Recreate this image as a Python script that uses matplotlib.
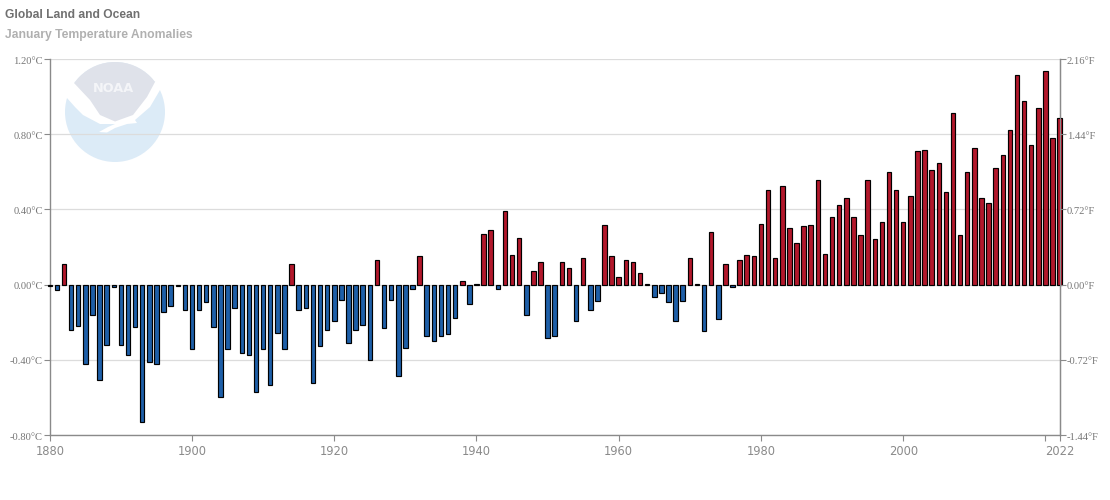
import matplotlib
matplotlib.use('Agg')
import matplotlib.pyplot as plt
from matplotlib.patches import Circle, Polygon
from matplotlib.transforms import ScaledTranslation

# January anomalies in deg C
first_year = 1880
anomalies_1880s = [-0.01, -0.03, 0.11, -0.24, -0.22, -0.42, -0.16, -0.51, -0.32, -0.015]
anomalies_1890s = [-0.32, -0.375, -0.225, -0.73, -0.41, -0.42, -0.145, -0.115, -0.005, -0.135]
anomalies_1900s = [-0.34, -0.135, -0.09, -0.225, -0.60, -0.34, -0.125, -0.365, -0.375, -0.57]
anomalies_1910s = [-0.34, -0.535, -0.26, -0.34, 0.11, -0.135, -0.125, -0.525, -0.325, -0.24]
anomalies_1920s = [-0.195, -0.08, -0.31, -0.24, -0.215, -0.40, 0.13, -0.23, -0.08, -0.485]
anomalies_1930s = [-0.335, -0.025, 0.15, -0.275, -0.30, -0.275, -0.265, -0.175, 0.02, -0.105]
anomalies_1940s = [0.005, 0.27, 0.29, -0.025, 0.39, 0.155, 0.25, -0.16, 0.07, 0.12]
anomalies_1950s = [-0.285, -0.275, 0.12, 0.09, -0.195, 0.14, -0.135, -0.085, 0.315, 0.15]
anomalies_1960s = [0.04, 0.13, 0.12, 0.06, 0.005, -0.065, -0.045, -0.095, -0.195, -0.085]
anomalies_1970s = [0.14, 0.005, -0.245, 0.28, -0.185, 0.11, -0.015, 0.13, 0.155, 0.15]
anomalies_1980s = [0.325, 0.505, 0.14, 0.525, 0.30, 0.22, 0.31, 0.315, 0.555, 0.165]
anomalies_1990s = [0.36, 0.425, 0.46, 0.36, 0.265, 0.555, 0.245, 0.335, 0.60, 0.505]
anomalies_2000s = [0.335, 0.47, 0.71, 0.715, 0.61, 0.645, 0.495, 0.915, 0.265, 0.60]
anomalies_2010s = [0.725, 0.46, 0.435, 0.62, 0.69, 0.825, 1.115, 0.975, 0.745, 0.94]
anomalies_2020s = [1.135, 0.78, 0.885]

c_ticks = [-0.8, -0.4, 0.0, 0.4, 0.8, 1.2]
c_labels = ['-0.80°C', '-0.40°C', '0.00°C', '0.40°C', '0.80°C', '1.20°C']
f_ticks = [-1.44, -0.72, 0.0, 0.72, 1.44, 2.16]
f_labels = ['-1.44°F', '-0.72°F', '0.00°F', '0.72°F', '1.44°F', '2.16°F']
year_ticks = [1880, 1900, 1920, 1940, 1960, 1980, 2000, 2020, 2022]
year_labels = ['1880', '1900', '1920', '1940', '1960', '1980', '2000', '', '2022']

anomalies = (anomalies_1880s + anomalies_1890s + anomalies_1900s + anomalies_1910s
             + anomalies_1920s + anomalies_1930s + anomalies_1940s + anomalies_1950s
             + anomalies_1960s + anomalies_1970s + anomalies_1980s + anomalies_1990s
             + anomalies_2000s + anomalies_2010s + anomalies_2020s)
years = [first_year + i for i in range(len(anomalies))]

W, H = 1110, 500
AXIS_COLOR = '#8a8a8a'
fig = plt.figure(figsize=(W / 100, H / 100), dpi=100)

# logo sits in its own pixel-space axes, behind the chart
bg = fig.add_axes([0, 0, 1, 1], zorder=0)
bg.set_xlim(0, W)
bg.set_ylim(H, 0)
bg.axis('off')
disc = Circle((115, 112), 50, fc='#dcebf7', ec='none')
bg.add_patch(disc)
upper = Polygon([(60, 50), (170, 50), (170, 85), (156, 84), (148, 99), (134, 116), (115, 123),
                 (99, 116), (89, 101), (74, 85), (60, 84)],
                fc='#dfe2ea', ec='none')
bg.add_patch(upper)
upper.set_clip_path(disc)
swoosh = [(62, 78), (74, 83), (90, 100), (100, 115), (115, 121.5), (133, 115), (147, 97),
          (155, 82), (163, 82), (160, 90), (150, 107), (135, 120), (137, 123), (127, 124),
          (115, 128), (107, 132.5), (99, 132), (108, 127), (115, 124), (100, 124), (83, 115),
          (75, 107), (67, 98), (60, 95)]
bg.add_patch(Polygon(swoosh, fc='white', ec='none'))
bg.text(114, 88.5, 'NOAA', color='#f4f5f8', fontsize=9.3, fontweight='bold',
        family='DejaVu Sans', ha='center', va='center')

ax = fig.add_axes([49.8 / W, 1 - 435 / H, (1060 - 49.8) / W, (435 - 59) / H], zorder=1)
ax.patch.set_alpha(0)
ax.set_xlim(1880, 2022.05)
ax.set_ylim(-0.8, 1.2)

colors = ['#b2182b' if v >= 0 else '#1e5fa8' for v in anomalies]
bars = ax.bar(years, anomalies, width=0.63, color=colors, edgecolor='black', linewidth=0.85, zorder=3)
for b in bars:
    b.set_clip_on(False)

ax.set_yticks(c_ticks)
ax.set_yticklabels(c_labels, family='Liberation Serif', fontsize=7.6, color='#777777')
ax.set_xticks(year_ticks)
ax.set_xticklabels(year_labels, family='DejaVu Sans', fontsize=8.3, color='#8a8a8a')
ax.grid(axis='y', color='#dcdcdc', linewidth=0.9, zorder=0)
ax.set_axisbelow(True)
ax.tick_params(axis='y', length=4, width=0.8, color=AXIS_COLOR, pad=1)
ax.tick_params(axis='x', length=4, width=0.8, color=AXIS_COLOR, pad=3.5)
for side in ['left', 'bottom', 'right']:
    ax.spines[side].set_color(AXIS_COLOR)
    ax.spines[side].set_linewidth(1.0)
ax.spines['top'].set_visible(False)

ax_f = ax.twinx()
ax_f.set_ylim(-1.44, 2.16)
ax_f.set_yticks(f_ticks)
ax_f.set_yticklabels(f_labels, family='Liberation Serif', fontsize=7.6, color='#777777')
ax_f.tick_params(axis='y', length=4, width=0.8, color=AXIS_COLOR, pad=1)
ax_f.spines['top'].set_visible(False)
ax_f.spines['left'].set_visible(False)
ax_f.spines['bottom'].set_visible(False)
ax_f.spines['right'].set_color(AXIS_COLOR)

# y labels sit a pixel lower in the original
nudge = ScaledTranslation(0, -1 / 100, fig.dpi_scale_trans)
for lab in ax.get_yticklabels() + ax_f.get_yticklabels():
    lab.set_transform(lab.get_transform() + nudge)

fig.text(5 / W, 1 - 15 / H, 'Global Land and Ocean', family='Liberation Sans', fontweight='bold',
         fontsize=8.65, color='#707070', va='center')
fig.text(5 / W, 1 - 35 / H, 'January Temperature Anomalies', family='Liberation Sans',
         fontweight='bold', fontsize=8.75, color='#b0b0b0', va='center')

fig.savefig('out.png', dpi=100)
